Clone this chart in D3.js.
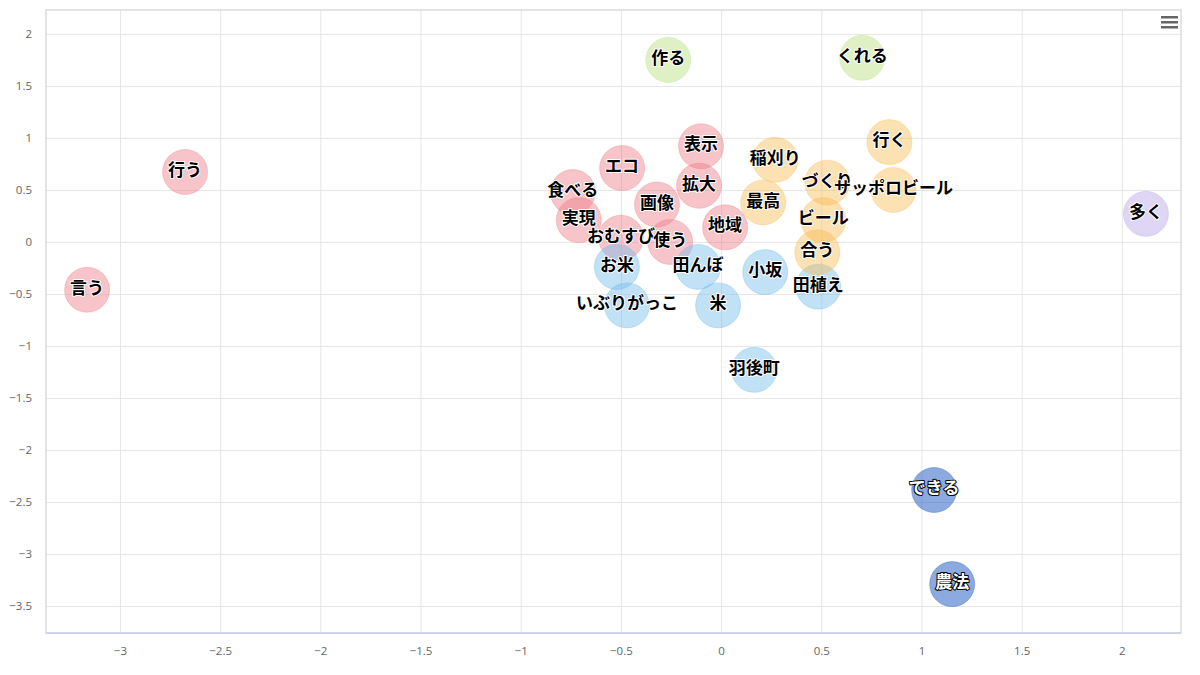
<!DOCTYPE html>
<html>
<head>
<meta charset="utf-8">
<script src="https://cdn.jsdelivr.net/npm/d3@7"></script>
<style>
  body { margin: 0; background: #fff; }
  svg { display: block; font-family: "Noto Sans CJK JP", "Noto Sans", sans-serif; }
</style>
</head>
<body>
<div id="chart"></div>
<script>
const W = 1200, H = 675;

// data
const words = ["言う", "行う", "表示", "エコ", "拡大", "食べる", "実現", "画像", "おむすび", "使う", "地域",
               "田んぼ", "お米", "いぶりがっこ", "米", "小坂", "田植え", "羽後町",
               "稲刈り", "最高", "づくり", "サッポロビール", "行く", "ビール", "合う",
               "作る", "くれる", "多く", "できる", "農法"];
const xs = [-3.164, -2.675, -0.10, -0.494, -0.11, -0.74, -0.71, -0.32, -0.50, -0.254, 0.02,
            -0.115, -0.52, -0.47, -0.015, 0.22, 0.485, 0.165,
            0.27, 0.21, 0.53, 0.86, 0.84, 0.51, 0.48,
            -0.264, 0.704, 2.12, 1.063, 1.153];
const ys = [-0.46, 0.673, 0.92, 0.71, 0.54, 0.48, 0.21, 0.36, 0.04, 0.0, 0.14,
            -0.24, -0.24, -0.61, -0.61, -0.29, -0.43, -1.23,
            0.79, 0.38, 0.57, 0.50, 0.96, 0.21, -0.10,
            1.75, 1.77, 0.27, -2.385, -3.29];
const groups = [0, 0, 0, 0, 0, 0, 0, 0, 0, 0, 0,
                1, 1, 1, 1, 1, 1, 1,
                2, 2, 2, 2, 2, 2, 2,
                3, 3, 4, 5, 5];
const groupColors = ["#ed7d87", "#73bdeb", "#f9bd55", "#b9e17d", "#b9a5eb", "#1a56c0"];
const xTicks = [-3, -2.5, -2, -1.5, -1, -0.5, 0, 0.5, 1, 1.5, 2];
const yTicks = [-3.5, -3, -2.5, -2, -1.5, -1, -0.5, 0, 0.5, 1, 1.5, 2];

const margin = {left: 46, right: 19, top: 10, bottom: 42};
const pw = W - margin.left - margin.right,
      ph = H - margin.top - margin.bottom;

const x = d3.scaleLinear().domain([-3.369, 2.295]).range([0, pw]);
const y = d3.scaleLinear().domain([-3.76, 2.23]).range([ph, 0]);

const svg = d3.select("#chart").append("svg")
    .attr("width", W)
    .attr("height", H);

const g = svg.append("g")
    .attr("transform", "translate(" + margin.left + "," + margin.top + ")");

// grid
g.append("g")
    .attr("transform", "translate(0," + ph + ")")
    .call(d3.axisBottom(x).tickValues(xTicks).tickSize(-ph).tickFormat(""))
    .call(a => a.select(".domain").remove())
    .selectAll("line").attr("stroke", "#e6e6e6");

g.append("g")
    .call(d3.axisLeft(y).tickValues(yTicks).tickSize(-pw).tickFormat(""))
    .call(a => a.select(".domain").remove())
    .selectAll("line").attr("stroke", "#e6e6e6");

// plot border
g.append("rect")
    .attr("width", pw)
    .attr("height", ph)
    .attr("fill", "none")
    .attr("stroke", "#dcdcdc")
    .attr("stroke-width", 1.5);

g.append("line")
    .attr("x1", 0).attr("x2", pw)
    .attr("y1", ph).attr("y2", ph)
    .attr("stroke", "#ccd6eb")
    .attr("stroke-width", 2);

// axis labels
const fmt = d => String(d).replace("-", "\u2212");

const xAxis = g.append("g")
    .attr("transform", "translate(0," + ph + ")")
    .call(d3.axisBottom(x).tickValues(xTicks).tickSize(0).tickPadding(14).tickFormat(fmt));
xAxis.select(".domain").remove();
xAxis.selectAll("text")
    .attr("fill", "#666")
    .style("font-family", "'Open Sans', sans-serif")
    .style("font-size", "11.5px");

const yAxis = g.append("g")
    .call(d3.axisLeft(y).tickValues(yTicks).tickSize(0).tickPadding(14).tickFormat(fmt));
yAxis.select(".domain").remove();
yAxis.selectAll("text")
    .attr("fill", "#666")
    .attr("dy", "0.35em")
    .style("font-family", "'Open Sans', sans-serif")
    .style("font-size", "11.5px");

// bubbles
const idx = d3.range(words.length);

g.append("g").selectAll("circle")
    .data(idx)
    .enter()
    .append("circle")
    .attr("cx", i => x(xs[i]))
    .attr("cy", i => y(ys[i]))
    .attr("r", 22.5)
    .attr("fill", i => groupColors[groups[i]])
    .attr("fill-opacity", i => groups[i] === 5 ? 0.5 : 0.45)
    .attr("stroke", i => groupColors[groups[i]])
    .attr("stroke-opacity", 0.35)
    .attr("stroke-width", 1);

// labels
g.append("g").selectAll("text")
    .data(idx)
    .enter()
    .append("text")
    .attr("x", i => x(xs[i]))
    .attr("y", i => y(ys[i]) - 2)
    .attr("text-anchor", "middle")
    .attr("dy", "0.36em")
    .style("font-size", "17px")
    .style("font-weight", "bold")
    .style("paint-order", "stroke")
    .attr("fill", i => groups[i] === 5 ? "#fff" : "#000")
    .attr("stroke", i => groups[i] === 5 ? "#000" : "#fff")
    .attr("stroke-width", 2)
    .attr("stroke-linejoin", "round")
    .text(i => words[i]);

// menu icon
const menu = svg.append("g").attr("transform", "translate(1161,16)");
[0, 5, 10].forEach(function(dy) {
    menu.append("rect")
        .attr("x", 0).attr("y", dy)
        .attr("width", 17).attr("height", 2.5)
        .attr("fill", "#666");
});
</script>
</body>
</html>
